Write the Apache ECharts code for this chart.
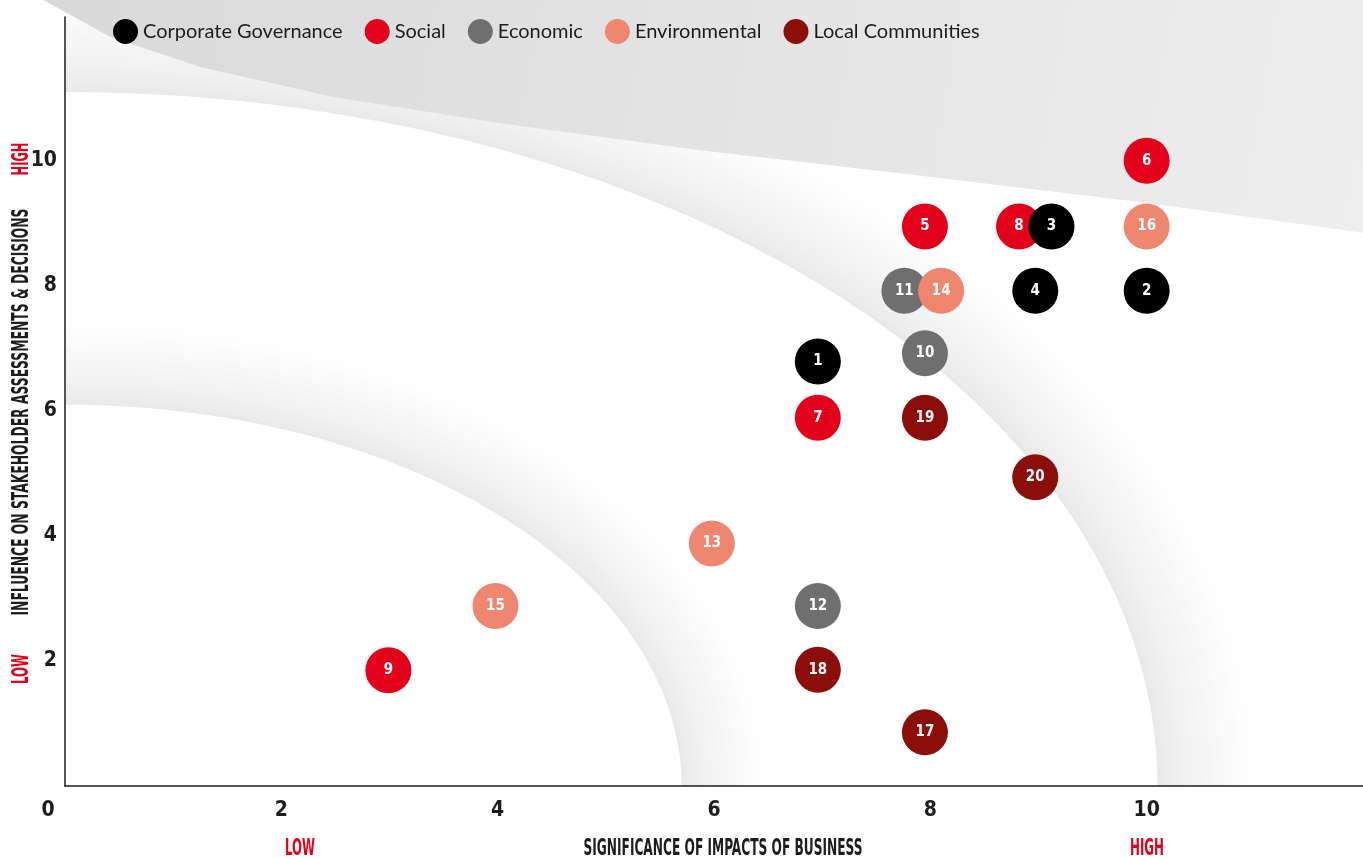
<!DOCTYPE html>
<html>
<head>
<meta charset="utf-8">
<script src="https://cdn.jsdelivr.net/npm/echarts@6/dist/echarts.min.js"></script>
<style>
  html, body { margin: 0; padding: 0; background: #fff; }
  #chart { width: 1363px; height: 858px; }
</style>
</head>
<body>
<div id="chart"></div>
<script>
// categories (legend order)
const categories = ['Corporate Governance', 'Social', 'Economic', 'Environmental', 'Local Communities']

// [significance of impacts, influence on stakeholders, topic number]
const governance = [[6.96, 6.79, 1], [10, 7.92, 2], [9.12, 8.95, 3], [8.97, 7.92, 4]]
const social = [[7.95, 8.95, 5], [10, 10, 6], [6.96, 5.89, 7], [8.82, 8.95, 8], [2.99, 1.85, 9]]
const economic = [[7.95, 6.92, 10], [7.76, 7.92, 11], [6.96, 2.88, 12]]
const environmental = [[5.98, 3.88, 13], [8.1, 7.92, 14], [3.98, 2.88, 15], [10, 8.95, 16]]
const localCommunities = [[7.95, 0.86, 17], [6.96, 1.86, 18], [7.95, 5.89, 19], [8.97, 4.94, 20]]

// tick labels
const xTicks = [0, 2, 4, 6, 8, 10]
const yTicks = [2, 4, 6, 8, 10]

const colors = ['#000000', '#e3001b', '#706f6f', '#ef8670', '#8b0e0b']
const seriesData = [governance, social, economic, environmental, localCommunities]

// background decoration (data units, centred on the origin)
const innerBand = { rx: 5.7, ry: 6.1, fade: 85 }
const outerBand = { rx: 10.1, ry: 11.1, fade: 100 }
const capEdge = [[-0.2, 12.57], [0.42, 11.98], [1.25, 11.5], [2.48, 11.02], [4.02, 10.6],
  [5.87, 10.17], [7.72, 9.8], [10.03, 9.32], [12, 8.85], [12, 12.57]]

const condensed = "'Liberation Sans Narrow', 'DejaVu Sans Condensed', 'Roboto Condensed', sans-serif"

// how much to squeeze a text horizontally to reach a given length
const measureCtx = document.createElement('canvas').getContext('2d')
const squeeze = (text, font, width) => {
  measureCtx.font = font
  return width / measureCtx.measureText(text).width
}

const ellipsePoints = (origin, unit, band, grow) => {
  const pts = [[origin[0], origin[1]]]
  const steps = 90
  for (let i = 0; i <= steps; i++) {
    const t = (Math.PI / 2) * i / steps
    pts.push([
      origin[0] + (band.rx * unit[0] + grow) * Math.cos(t),
      origin[1] - (band.ry * unit[1] + grow) * Math.sin(t)
    ])
  }
  return pts
}

const fadeRing = (origin, unit, band, children) => {
  const n = 30
  for (let i = n; i >= 1; i--) {
    const k = Math.pow((i - 0.5) / n, 0.7)
    const g = Math.round(232 + (255 - 232) * k)
    children.push({
      type: 'polygon',
      shape: { points: ellipsePoints(origin, unit, band, band.fade * i / n) },
      style: { fill: `rgb(${g},${g},${g})` }
    })
  }
  children.push({
    type: 'polygon',
    shape: { points: ellipsePoints(origin, unit, band, 0) },
    style: { fill: '#ffffff' }
  })
}

const renderBands = (params, api) => {
  const origin = api.coord([0, 0])
  const unit = api.size([1, 1])
  const children = []
  fadeRing(origin, unit, outerBand, children)
  fadeRing(origin, unit, innerBand, children)
  children.push({
    type: 'polygon',
    shape: { points: capEdge.map(p => api.coord(p)) },
    style: {
      fill: new echarts.graphic.LinearGradient(0, 0, 1, 1, [
        { offset: 0, color: '#d9d9d9' },
        { offset: 1, color: '#eeeeee' }
      ])
    }
  })
  return { type: 'group', children }
}

const titleFont = `bold 23px ${condensed}`
const sideText = (text, x, y, width, color, vertical) => ({
  type: 'text',
  x, y,
  rotation: vertical ? Math.PI / 2 : 0,
  scaleX: squeeze(text, titleFont, width),
  style: {
    text,
    font: titleFont,
    fill: color,
    align: 'center',
    verticalAlign: 'middle'
  },
  silent: true
})

const chart = echarts.init(document.getElementById('chart'))

const option = {
  animation: false,
  grid: { left: 65, right: 0, top: 17, bottom: 72 },
  legend: {
    data: categories,
    left: 113,
    top: 19,
    padding: 0,
    icon: 'circle',
    itemWidth: 25,
    itemHeight: 25,
    itemGap: 22,
    selectedMode: false,
    textStyle: { fontFamily: 'Lato', fontSize: 20, color: '#1d1d1b' }
  },
  xAxis: {
    type: 'value',
    min: 0,
    max: 12,
    axisLine: { lineStyle: { color: '#1d1d1b', width: 1.5 } },
    axisTick: { show: false },
    splitLine: { show: false },
    axisLabel: {
      customValues: xTicks,
      margin: 14,
      fontFamily: condensed,
      fontWeight: 'bold',
      fontSize: 21,
      color: '#1d1d1b',
      formatter: v => (v === 0 ? '{zero|0}' : String(v)),
      rich: {
        zero: {
          padding: [0, 34, 0, 0],
          fontFamily: condensed,
          fontWeight: 'bold',
          fontSize: 21,
          color: '#1d1d1b'
        }
      }
    }
  },
  yAxis: {
    type: 'value',
    min: 0,
    max: 12.3,
    axisLine: { lineStyle: { color: '#1d1d1b', width: 1.5 } },
    axisTick: { show: false },
    splitLine: { show: false },
    axisLabel: {
      customValues: yTicks,
      margin: 8,
      fontFamily: condensed,
      fontWeight: 'bold',
      fontSize: 21,
      color: '#1d1d1b'
    }
  },
  graphic: [
    sideText('INFLUENCE ON STAKEHOLDER ASSESSMENTS & DECISIONS', 22, 412, 407, '#1d1d1b', true),
    sideText('HIGH', 22, 159, 33, '#e3001b', true),
    sideText('LOW', 22, 669, 30, '#e3001b', true),
    sideText('SIGNIFICANCE OF IMPACTS OF BUSINESS', 723, 849, 279, '#1d1d1b', false),
    sideText('LOW', 300, 849, 30, '#e3001b', false),
    sideText('HIGH', 1147, 849, 34, '#e3001b', false)
  ],
  series: [
    {
      type: 'custom',
      name: 'bands',
      silent: true,
      clip: false,
      z: 0,
      data: [[0, 0]],
      renderItem: renderBands
    },
    ...categories.map((name, i) => ({
      type: 'scatter',
      name,
      z: i === 0 ? 4 : 3,
      data: seriesData[i],
      symbol: 'circle',
      symbolSize: 46,
      itemStyle: { color: colors[i], opacity: 1 },
      emphasis: { disabled: true },
      label: {
        show: true,
        position: 'inside',
        formatter: p => p.value[2],
        color: '#ffffff',
        fontFamily: condensed,
        fontWeight: 'bold',
        fontSize: 15
      }
    }))
  ]
}

chart.setOption(option)
</script>
</body>
</html>
